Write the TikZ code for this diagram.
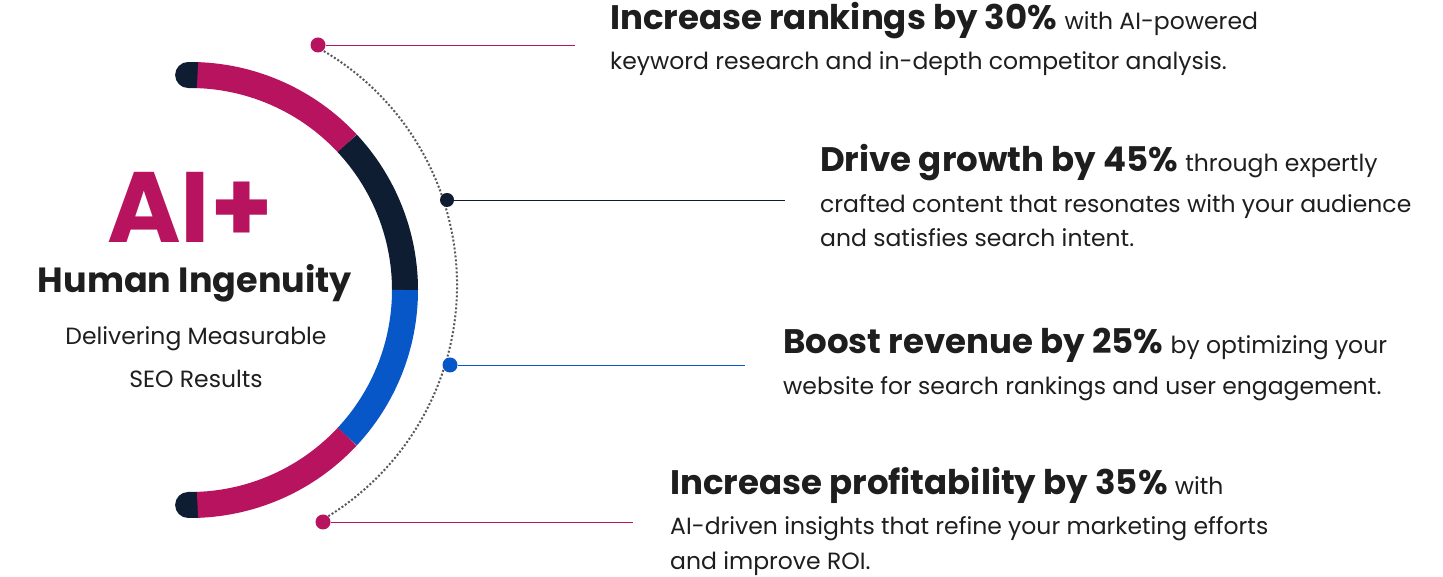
\documentclass[tikz,border=0pt]{standalone}
\usepackage{fontspec}
\setmainfont{Poppins}
\definecolor{mag}{HTML}{B8135F}
\definecolor{navy}{HTML}{0F1D33}
\definecolor{blu}{HTML}{0757C8}
\definecolor{txt}{HTML}{1E1E1E}
\newcommand{\regf}{\fontsize{23.5}{23.5}\selectfont\mdseries}
\begin{document}
\begin{tikzpicture}[x=1pt,y=1pt,
  big/.style={font=\fontsize{34}{34}\selectfont\bfseries,text=txt,anchor=base west,inner sep=0},
  reg/.style={font=\regf,text=txt,anchor=base west,inner sep=0},
  seg/.style={line width=26},
  lead/.style={line width=0.8},
  dotn/.style={circle,fill,inner sep=0,minimum size=15}]
\useasboundingbox (0,0) rectangle (1443,577);
% arc
\draw[seg,navy,line cap=round] (190,287) ++(90.5:215) arc (90.5:88:215);
\draw[seg,navy,line cap=round] (190,287) ++(-90.5:215) arc (-90.5:-88:215);
\draw[seg,mag] (190,287) ++(88:215) arc (88:43:215);
\draw[seg,navy] (190,287) ++(43:215) arc (43:0:215);
\draw[seg,blu] (190,287) ++(0:215) arc (0:-43:215);
\draw[seg,mag] (190,287) ++(-43:215) arc (-43:-88:215);
% dotted arc
\draw[dotted,line width=2,gray!70!black] (185,292) ++(61:272) arc (61:-60:272);
% dots
\node[dotn,mag] (d1) at (318,532) {};
\node[dotn,navy,minimum size=14] (d2) at (447,377) {};
\node[dotn,blu] (d3) at (450,212) {};
\node[dotn,mag] (d4) at (323,55) {};
\coordinate (e1) at (575,532);
\coordinate (e2) at (785,377);
\coordinate (e3) at (745,212);
\coordinate (e4) at (633,55);
\draw[lead,mag] (d1) -- (e1);
\draw[lead,navy] (d2) -- (e2);
\draw[lead,blu] (d3) -- (e3);
\draw[lead,mag] (d4) -- (e4);
% left text
\node[font=\fontsize{100}{100}\selectfont\bfseries,text=mag,anchor=base,inner sep=0] (ai) at (190,334) {AI+};
\node[font=\fontsize{35}{35}\selectfont\bfseries,text=txt,anchor=base,inner sep=0] (hi) at (195,284) {Human Ingenuity};
\node[font=\regf,text=txt,anchor=base,inner sep=0] (dm) at (196,232) {Delivering Measurable};
\node[font=\regf,text=txt,anchor=base,inner sep=0] (sr) at (196,189) {SEO Results};
% right texts
\node[big] (t1a) at (610,547) {Increase rankings by 30\% {\regf with AI-powered}};
\node[reg] (t1b) at (610,507) {keyword research and in-depth competitor analysis.};
\node[big] (t2a) at (820,405) {Drive growth by 45\% {\regf through expertly}};
\node[reg] (t2b) at (820,364) {crafted content that resonates with your audience};
\node[reg] (t2c) at (820,330) {and satisfies search intent.};
\node[big] (t3a) at (783,223) {Boost revenue by 25\% {\regf by optimizing your}};
\node[reg] (t3b) at (783,182) {website for search rankings and user engagement.};
\node[big] (t4a) at (670,82) {Increase profitability by 35\% {\regf with}};
\node[reg] (t4b) at (670,42) {AI-driven insights that refine your marketing efforts};
\node[reg] (t4c) at (670,7) {and improve ROI.};
\end{tikzpicture}
\end{document}
